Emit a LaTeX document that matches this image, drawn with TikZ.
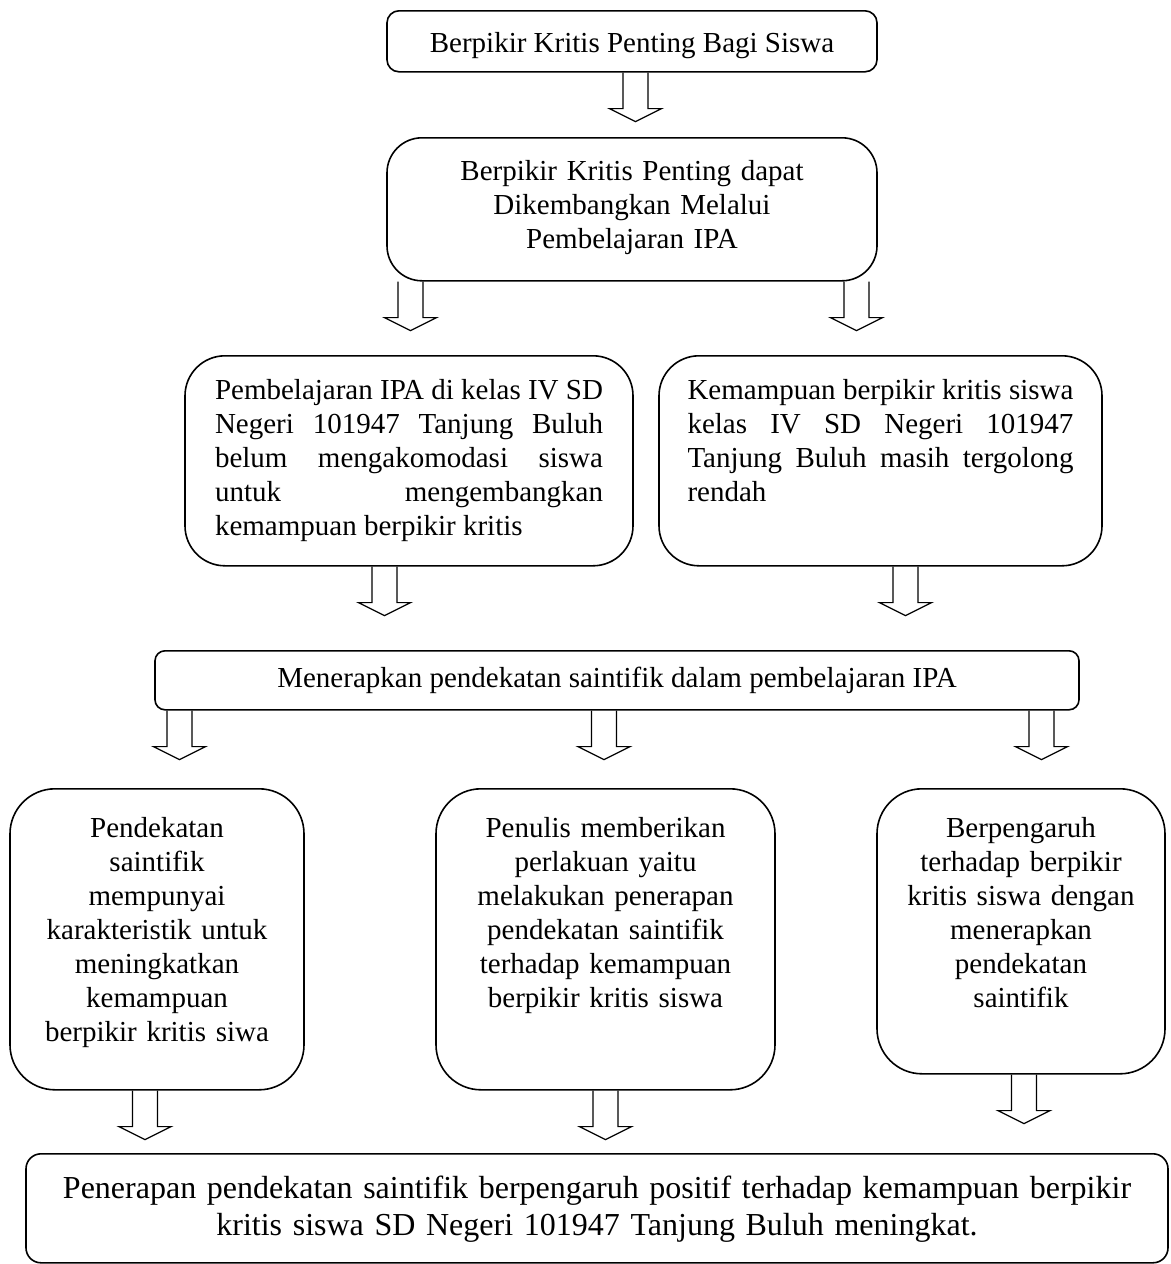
\documentclass[tikz,border=0pt]{standalone}
\usepackage{fontspec}
\setmainfont{Liberation Serif}

\tikzset{
  box/.style={draw, line width=0.8pt, inner sep=0pt, anchor=north,
    font=\fontsize{14.5}{17}\selectfont},
  hollowarrow/.pic={
    \draw[line width=0.6pt] (-12.5,0) -- (-12.5,36) -- (-26,36) -- (0,49)
      -- (26,36) -- (12.5,36) -- (12.5,0);
  }
}

\begin{document}
\begin{tikzpicture}[x=0.5pt, y=-0.5pt]
  \useasboundingbox (0,0) rectangle (1171,1264);
  % Top boxes
  \node[box, rounded corners=6pt, minimum width=245pt, text height=21pt, text depth=9.5pt]
    (need) at (632,10) {Berpikir Kritis Penting Bagi Siswa};
  \node[box, rounded corners=17.5pt, minimum width=245pt, text width=220pt, align=center,
    text height=21.5pt, text depth=50pt] (develop) at (632,137)
    {Berpikir Kritis Penting dapat\\ Dikembangkan Melalui\\ Pembelajaran IPA};
  % Problems
  \node[box, rounded corners=20pt, minimum width=224pt, text width=194pt, align=justify,
    text height=22pt, text depth=83pt] (learning) at (409,355)
    {Pembelajaran IPA di kelas IV SD\linebreak Negeri 101947 Tanjung Buluh\linebreak
     belum mengakomodasi siswa\linebreak untuk mengembangkan\linebreak
     kemampuan berpikir kritis};
  \node[box, rounded corners=20pt, minimum width=221.5pt, text width=193pt, align=justify,
    text height=22pt, text depth=83pt] (ability) at (880.5,355)
    {Kemampuan berpikir kritis siswa\linebreak kelas IV SD Negeri 101947\linebreak
     Tanjung Buluh masih tergolong\linebreak rendah};
  % Approach
  \node[box, rounded corners=5pt, minimum width=462pt, text height=18.5pt, text depth=11pt]
    (apply) at (617,650) {Menerapkan pendekatan saintifik dalam pembelajaran IPA};
  % Three points
  \node[box, rounded corners=22.5pt, minimum width=147pt, text width=140pt, align=center,
    text height=24.5pt, text depth=126pt] (traits) at (157,788)
    {Pendekatan\\ saintifik\\ mempunyai\\ karakteristik untuk\\ meningkatkan\\
     kemampuan\\ berpikir kritis siwa};
  \node[box, rounded corners=22.5pt, minimum width=169.5pt, text width=160pt, align=center,
    text height=24.5pt, text depth=126pt] (treat) at (605.5,788)
    {Penulis memberikan\\ perlakuan yaitu\\ melakukan penerapan\\ pendekatan saintifik\\
     terhadap kemampuan\\ berpikir kritis siswa};
  \node[box, rounded corners=22.5pt, minimum width=144pt, text width=140pt, align=center,
    text height=24.5pt, text depth=118pt] (effect) at (1021,788)
    {Berpengaruh\\ terhadap berpikir\\ kritis siswa dengan\\ menerapkan\\ pendekatan\\
     saintifik};
  % Conclusion
  \node[box, rounded corners=7.5pt, minimum width=571pt, text width=560pt, align=center,
    font=\fontsize{16}{18.5}\selectfont, text height=22.25pt, text depth=32.25pt]
    (result) at (597,1153)
    {Penerapan pendekatan saintifik berpengaruh positif terhadap kemampuan berpikir\\
     kritis siswa SD Negeri 101947 Tanjung Buluh meningkat.};
  % Arrows
  \foreach \bx/\dx in {need/3.5, develop/-221.5, develop/224.5, learning/-24.5, ability/25,
      apply/-437.5, apply/-13, apply/424.5, traits/-12, treat/0, effect/3}
    \pic at ([xshift=\dx*0.5pt]\bx.south) {hollowarrow};
\end{tikzpicture}
\end{document}
